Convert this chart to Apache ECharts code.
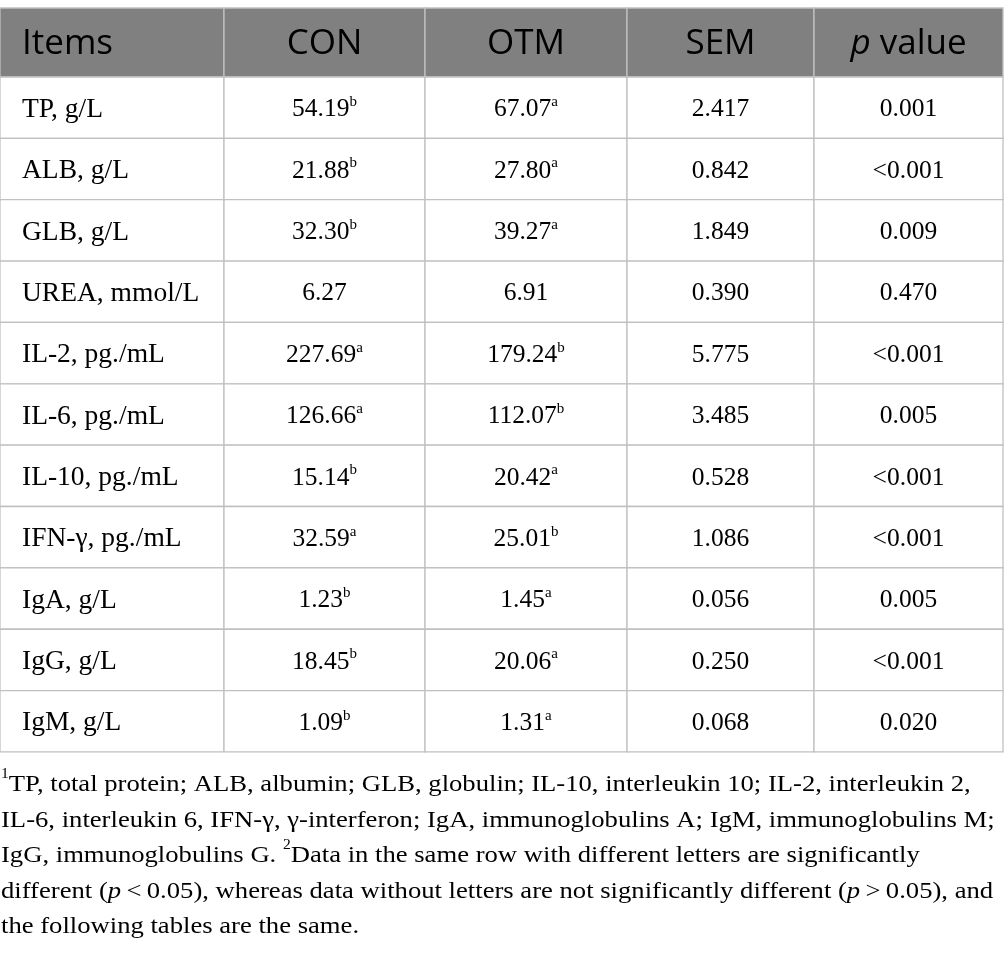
<!DOCTYPE html>
<html lang="en" style="height: 100%;width: 100%">
<head>
    <meta charset="utf-8">
</head>
<body style="height: 100%;width: 100%; margin: 0; background: #ffffff">
<div id="container" style="width: 1004px; height: 959px;"></div>

<script type="text/javascript" src="https://cdn.jsdelivr.net/npm/echarts@6/dist/echarts.min.js"></script>
<script type="text/javascript">
    // table content
    var headers = ['Items', 'CON', 'OTM', 'SEM', 'p value'];
    var items = ['TP, g/L', 'ALB, g/L', 'GLB, g/L', 'UREA, mmol/L', 'IL-2, pg./mL', 'IL-6, pg./mL',
        'IL-10, pg./mL', 'IFN-γ, pg./mL', 'IgA, g/L', 'IgG, g/L', 'IgM, g/L'];
    var conValues = [54.19, 21.88, 32.30, 6.27, 227.69, 126.66, 15.14, 32.59, 1.23, 18.45, 1.09];
    var conLetters = ['b', 'b', 'b', '', 'a', 'a', 'b', 'a', 'b', 'b', 'b'];
    var otmValues = [67.07, 27.80, 39.27, 6.91, 179.24, 112.07, 20.42, 25.01, 1.45, 20.06, 1.31];
    var otmLetters = ['a', 'a', 'a', '', 'b', 'b', 'a', 'b', 'a', 'a', 'a'];
    var semValues = [2.417, 0.842, 1.849, 0.390, 5.775, 3.485, 0.528, 1.086, 0.056, 0.250, 0.068];
    var pValues = ['0.001', '<0.001', '0.009', '0.470', '<0.001', '0.005', '<0.001', '<0.001', '0.005', '<0.001', '0.020'];

    // footnote lines (rich text markup: s = superscript, i = italic)
    var noteLines = [
        '{s|1}{n|TP, total protein; ALB, albumin; GLB, globulin; IL-10, interleukin 10; IL-2, interleukin 2,}',
        '{n|IL-6, interleukin 6, IFN-γ, γ-interferon; IgA, immunoglobulins A; IgM, immunoglobulins M;}',
        '{n|IgG, immunoglobulins G. }{s|2}{n|Data in the same row with different letters are significantly}',
        '{n|different (}{i|p}{n|\u2009<\u20090.05), whereas data without letters are not significantly different (}{i|p}{n|\u2009>\u20090.05), and}',
        '{n|the following tables are the same.}'
    ];

    // layout of the grid (in axis units = pixels)
    var colEdges = [0, 224, 425, 627, 814, 1003];
    var headerH = 69, rowH = 61.36;
    var rowEdges = [0, headerH];
    for (var i = 0; i < items.length; i++) {
        rowEdges.push(headerH + (i + 1) * rowH);
    }

    var cells = [];
    headers.forEach(function (h, c) {
        cells.push({col: c, row: 0, text: h});
    });
    items.forEach(function (it, r) {
        cells.push({col: 0, row: r + 1, text: it});
        cells.push({col: 1, row: r + 1, text: conValues[r].toFixed(2), sup: conLetters[r]});
        cells.push({col: 2, row: r + 1, text: otmValues[r].toFixed(2), sup: otmLetters[r]});
        cells.push({col: 3, row: r + 1, text: semValues[r].toFixed(3)});
        cells.push({col: 4, row: r + 1, text: pValues[r]});
    });

    var textColor = '#231f20';
    var headRich = {
        h: {fontFamily: 'Open Sans', fontSize: 35, color: '#ffffff'},
        i: {fontFamily: 'Open Sans', fontSize: 35, color: '#ffffff', fontStyle: 'italic'}
    };
    var labelRich = {
        v: {fontFamily: 'Liberation Serif', fontSize: 27.5, color: textColor, lineHeight: 30}
    };
    var bodyRich = {
        v: {fontFamily: 'Liberation Serif', fontSize: 25.5, color: textColor, lineHeight: 30},
        s: {fontFamily: 'Liberation Serif', fontSize: 15, color: textColor, lineHeight: 20, verticalAlign: 'top'}
    };
    var noteRich = {
        n: {fontFamily: 'Liberation Serif', fontSize: 24, color: textColor, lineHeight: 35.5},
        i: {fontFamily: 'Liberation Serif', fontSize: 24, color: textColor, lineHeight: 35.5, fontStyle: 'italic'},
        s: {fontFamily: 'Liberation Serif', fontSize: 14, color: textColor, lineHeight: 24, verticalAlign: 'top'}
    };

    function renderCell(params, api) {
        var cell = cells[params.dataIndex];
        var p0 = api.coord([colEdges[cell.col], rowEdges[cell.row]]);
        var p1 = api.coord([colEdges[cell.col + 1], rowEdges[cell.row + 1]]);
        var head = cell.row === 0;
        var txt, rich;
        if (head) {
            txt = cell.col === 4 ? '{i|p}{h| value}' : '{h|' + cell.text + '}';
            rich = headRich;
        } else if (cell.col === 0) {
            txt = '{v|' + cell.text + '}';
            rich = labelRich;
        } else {
            txt = '{v|' + cell.text + '}' + (cell.sup ? '{s|' + cell.sup + '}' : '');
            rich = bodyRich;
        }
        return {
            type: 'group',
            children: [{
                type: 'rect',
                shape: {x: p0[0], y: p0[1], width: p1[0] - p0[0], height: p1[1] - p0[1]},
                style: {fill: head ? '#808080' : '#ffffff', stroke: '#c0c0c0', lineWidth: 1.3}
            }, {
                type: 'text',
                x: cell.col === 0 ? p0[0] + 22 : (p0[0] + p1[0]) / 2,
                y: (p0[1] + p1[1]) / 2 + 2,
                style: {
                    text: txt,
                    rich: rich,
                    align: cell.col === 0 ? 'left' : 'center',
                    verticalAlign: 'middle'
                }
            }]
        };
    }

    var myChart = echarts.init(document.getElementById('container'), null, {renderer: 'canvas'});

    var option = {
        animation: false,
        backgroundColor: '#ffffff',
        grid: {left: 0, top: 8, width: 1003, height: rowEdges[rowEdges.length - 1]},
        xAxis: {type: 'value', min: 0, max: colEdges[colEdges.length - 1], show: false},
        yAxis: {type: 'value', min: 0, max: rowEdges[rowEdges.length - 1], inverse: true, show: false},
        graphic: [{
            type: 'text',
            left: 1,
            top: 767,
            scaleX: 1.11,
            style: {text: noteLines.join('\n'), rich: noteRich}
        }],
        series: [{
            type: 'custom',
            renderItem: renderCell,
            clip: false,
            data: cells.map(function (c) {
                return [colEdges[c.col], rowEdges[c.row]];
            })
        }]
    };
    myChart.setOption(option);
</script>
</body>
</html>
